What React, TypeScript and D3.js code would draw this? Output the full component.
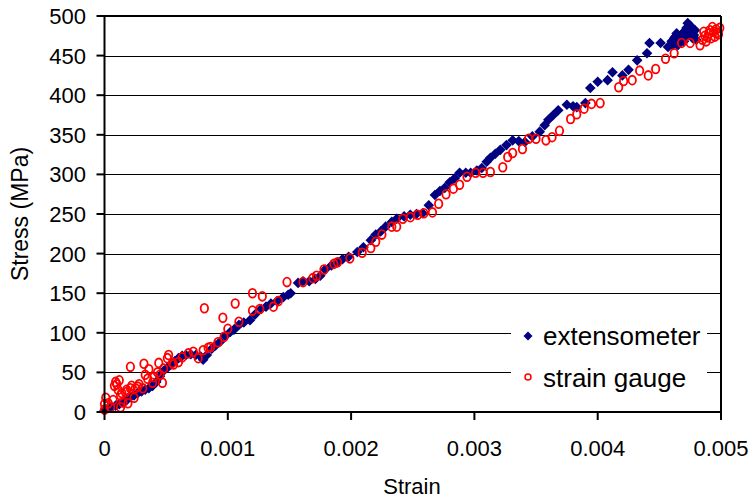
import React from "react";
import * as d3 from "d3";

// strain in units of 1e-3, stress in MPa
const extStrain = [0.00,0.03,0.06,0.09,0.12,0.15,0.18,0.21,0.24,0.27,0.30,0.33,0.36,0.39,0.42,0.45,0.48,0.51,0.54,0.57,0.60,0.63,0.66,0.70,0.74,0.78,0.80,0.83,0.87,0.90,0.94,0.98,1.02,1.05,1.09,1.13,1.18,1.22,1.27,1.31,1.35,1.40,1.45,1.49,1.51,1.57,1.61,1.66,1.71,1.75,1.79,1.84,1.89,1.93,1.98,2.05,2.10,2.16,2.20,2.24,2.28,2.33,2.37,2.43,2.48,2.53,2.58,2.63,2.68,2.72,2.76,2.80,2.84,2.88,2.93,2.97,3.02,3.06,3.10,3.13,3.17,3.21,3.26,3.31,3.36,3.41,3.47,3.53,3.57,3.60,3.64,3.68,3.75,3.80,3.83,3.90,3.94,4.00,4.08,4.12,4.20,4.25,4.32,4.40,4.42,4.51,4.57,4.60,4.62,4.64,4.66,4.68,4.70,4.72,4.73,4.74,4.76,4.78,4.80,4.70,4.65,4.75,4.61,4.67,4.71,4.77,4.69,4.63,4.79];
const extStress = [2,5,6,8,10,12,15,19,21,24,26,28,30,33,38,45,52,56,60,64,68,71,72,73,72,70,66,72,80,84,89,96,101,104,110,113,116,123,130,133,137,140,145,148,150,163,165,165,168,172,180,185,189,193,196,202,208,217,224,228,234,240,244,247,249,250,251,261,274,279,283,290,295,302,302,302,305,308,316,321,326,331,337,343,342,341,348,354,362,369,375,381,388,386,385,390,409,417,419,429,425,432,444,453,466,466,461,468,472,478,470,475,480,485,491,478,483,476,470,468,463,488,463,468,473,472,478,474,482];

const sgStrain = [0.00,0.00,0.03,0.01,0.05,0.07,0.09,0.10,0.11,0.13,0.13,0.15,0.17,0.19,0.21,0.21,0.24,0.27,0.31,0.32,0.33,0.36,0.39,0.44,0.45,0.47,0.51,0.52,0.55,0.60,0.63,0.68,0.72,0.76,0.81,0.80,0.84,0.86,0.92,0.96,0.97,1.00,1.06,1.09,1.20,1.20,1.26,1.28,1.37,1.41,1.48,1.61,1.69,1.72,1.78,1.86,1.89,1.99,2.09,2.16,2.20,2.25,2.33,2.37,2.42,2.48,2.54,2.59,2.66,2.71,2.77,2.83,2.88,2.94,3.01,3.07,3.13,3.23,3.27,3.31,3.39,3.44,3.50,3.58,3.63,3.69,3.78,3.83,3.89,3.95,4.02,4.17,4.21,4.28,4.34,4.41,4.47,4.55,4.62,4.68,4.75,4.83,4.85,4.87,4.90,4.92,4.94,4.96,4.98,4.88,4.95,4.99,4.91,0.14,0.18,0.22,0.25,0.28,0.35,0.40,0.43,0.48,0.56,4.86,4.93,4.97,4.89,0.08,0.12];
const sgStress = [3,10,11,18,6,15,38,35,28,21,6,12,25,11,30,57,18,32,30,61,47,54,37,62,47,37,68,72,62,63,69,74,76,68,131,78,81,82,88,119,95,105,137,114,150,128,130,146,133,140,164,164,169,172,180,187,189,194,201,207,215,224,234,234,244,246,249,251,252,263,275,282,287,297,302,302,303,309,322,327,332,345,345,343,347,355,370,376,383,389,390,410,418,419,431,425,433,446,453,466,466,463,470,475,478,472,480,483,477,468,474,485,482,24,28,33,30,35,42,44,50,55,60,480,486,479,473,33,40];

const xTicks = [0, 0.001, 0.002, 0.003, 0.004, 0.005];
const xTickLabels = ["0", "0.001", "0.002", "0.003", "0.004", "0.005"];
const yTicks = [0, 50, 100, 150, 200, 250, 300, 350, 400, 450, 500];
const seriesNames = ["extensometer", "strain gauge"];

const W = 752, H = 500;
const L = 104.5, R = 721, T = 16, B = 412;
const FONT = "Liberation Sans, Arial, sans-serif";

export default function App() {
  const x = d3.scaleLinear().domain([0, 0.005]).range([L, R]);
  const y = d3.scaleLinear().domain([0, 500]).range([B, T]);
  const diamond = (cx: number, cy: number, r: number) =>
    `M${cx},${cy - r}L${cx + r},${cy}L${cx},${cy + r}L${cx - r},${cy}Z`;
  const ext = extStrain.map((s, i) => [s * 1e-3, extStress[i]]);
  const sg = sgStrain.map((s, i) => [s * 1e-3, sgStress[i]]);
  return (
    <svg width={W} height={H} style={{ position: "absolute", left: 0, top: 0 }}>
      <rect width={W} height={H} fill="#fff" />
      {yTicks.slice(1, -1).map((t) => (
        <line key={"g" + t} x1={L} x2={R} y1={Math.round(y(t)) + 0.5} y2={Math.round(y(t)) + 0.5} stroke="#000" strokeWidth={1} />
      ))}
      {ext.map((d, i) => (
        <path key={"e" + i} d={diamond(x(d[0]), y(d[1]), 5.3)} fill="#000080" />
      ))}
      {sg.map((d, i) => (
        <ellipse key={"s" + i} cx={x(d[0])} cy={y(d[1])} rx={3.7} ry={4.4} fill="none" stroke="#ff0000" strokeWidth={1.8} />
      ))}
      {/* frame */}
      <line x1={L} x2={R} y1={T} y2={T} stroke="#000" strokeWidth={2} />
      <line x1={R} x2={R} y1={T} y2={B} stroke="#000" strokeWidth={2} />
      <line x1={L} x2={L} y1={T - 1} y2={B + 1} stroke="#000" strokeWidth={2} />
      <line x1={L - 1} x2={R + 1} y1={B} y2={B} stroke="#000" strokeWidth={2} />
      {yTicks.map((t) => (
        <g key={"y" + t}>
          <line x1={L - 8} x2={L} y1={y(t)} y2={y(t)} stroke="#000" strokeWidth={2} />
          <text x={86} y={y(t) + 8} textAnchor="end" fontFamily={FONT} fontSize={22} fill="#000">{t}</text>
        </g>
      ))}
      {xTicks.map((t, i) => (
        <g key={"x" + t}>
          <line x1={x(t)} x2={x(t)} y1={B} y2={B + 8} stroke="#000" strokeWidth={2} />
          <text x={x(t)} y={456} textAnchor="middle" fontFamily={FONT} fontSize={22} fill="#000">{xTickLabels[i]}</text>
        </g>
      ))}
      <text x={412} y={494} textAnchor="middle" fontFamily={FONT} fontSize={22} fill="#000">Strain</text>
      <text transform="translate(28,214) rotate(-90)" textAnchor="middle" fontFamily={FONT} fontSize={23} fill="#000">Stress (MPa)</text>
      {/* legend */}
      <rect x={511} y={318} width={196} height={74} fill="#fff" />
      <path d={diamond(528, 336, 4.5)} fill="#000080" />
      <text x={543} y={345} fontFamily={FONT} fontSize={26} fill="#000">{seriesNames[0]}</text>
      <ellipse cx={528} cy={377} rx={3} ry={3} fill="none" stroke="#ff0000" strokeWidth={1.5} />
      <text x={543} y={387} fontFamily={FONT} fontSize={26} fill="#000">{seriesNames[1]}</text>
    </svg>
  );
}
